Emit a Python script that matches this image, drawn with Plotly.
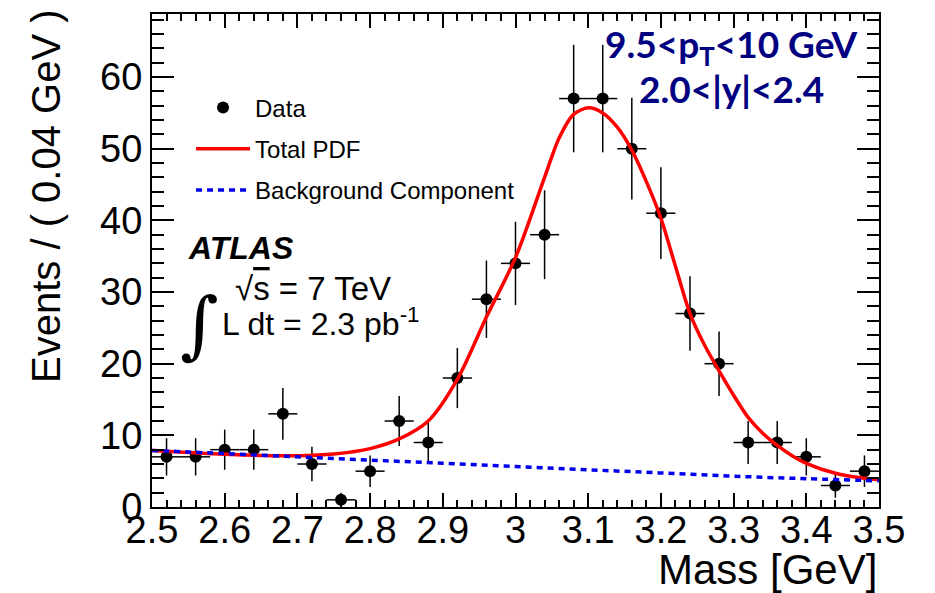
import plotly.graph_objects as go

# J/psi candidate mass spectrum, 9.5 < pT < 10 GeV, 2.0 < |y| < 2.4
bin_centres = [2.52, 2.56, 2.60, 2.64, 2.68, 2.72, 2.76, 2.80, 2.84, 2.88,
               2.92, 2.96, 3.00, 3.04, 3.08, 3.12, 3.16, 3.20, 3.24, 3.28,
               3.32, 3.36, 3.40, 3.44, 3.48]
counts = [7, 7, 8, 8, 13, 6, 1, 5, 12, 9,
          18, 29, 34, 38, 57, 57, 50, 41, 27, 20,
          9, 9, 7, 3, 5]
count_errors = [2.6, 2.6, 2.8, 2.8, 3.6, 2.4, 1.0, 2.2, 3.5, 3.0,
                4.2, 5.4, 5.8, 6.2, 7.5, 7.5, 7.1, 6.4, 5.2, 4.5,
                3.0, 3.0, 2.6, 1.7, 2.2]
bin_half_width = 0.02

# fitted total PDF, sampled along the mass axis
pdf_mass = [2.50, 2.55, 2.60, 2.65, 2.70, 2.75, 2.80, 2.84, 2.88, 2.92,
            2.96, 3.00, 3.04, 3.06, 3.08, 3.10, 3.12, 3.14, 3.16, 3.18,
            3.20, 3.22, 3.24, 3.26, 3.28, 3.30, 3.32, 3.34, 3.36, 3.38,
            3.40, 3.44, 3.48, 3.50]
pdf_total = [7.9, 7.6, 7.35, 7.2, 7.15, 7.4, 8.15, 9.5, 12.0, 17.8,
             26.5, 34.8, 46.0, 51.5, 54.8, 55.7, 55.0, 53.0, 49.8, 45.4,
             40.3, 33.6, 27.0, 22.6, 19.0, 15.6, 12.5, 10.3, 8.6, 7.2,
             6.1, 4.7, 4.0, 3.8]

# background component of the fit
bkg_mass = [2.5, 2.6, 2.7, 2.8, 2.9, 3.0, 3.1, 3.2, 3.3, 3.4, 3.5]
bkg_values = [7.9, 7.45, 7.0, 6.55, 6.1, 5.65, 5.2, 4.75, 4.3, 3.95, 3.65]

x_ticks = [2.5, 2.6, 2.7, 2.8, 2.9, 3.0, 3.1, 3.2, 3.3, 3.4, 3.5]
x_tick_labels = ["2.5", "2.6", "2.7", "2.8", "2.9", "3", "3.1", "3.2", "3.3", "3.4", "3.5"]
y_ticks = [0, 10, 20, 30, 40, 50, 60]
y_tick_labels = ["0", "10", "20", "30", "40", "50", "60"]

HELV = "Liberation Sans, Arial, Helvetica, sans-serif"
NAVY = "#000080"

fig = go.Figure()

fig.add_trace(go.Scatter(
    x=bin_centres, y=counts, mode="markers", name="Data",
    legendgroup="data",
    marker=dict(color="black", size=12),
    error_x=dict(type="constant", value=bin_half_width, color="black",
                 thickness=1.5, width=0),
    error_y=dict(type="data", array=count_errors, color="black",
                 thickness=1.5, width=0),
))

fig.add_trace(go.Scatter(
    x=pdf_mass, y=pdf_total, mode="lines", name="Total PDF",
    legendgroup="total",
    line=dict(color="#ff0000", width=3.5, shape="spline", smoothing=0.8),
))

fig.add_trace(go.Scatter(
    x=bkg_mass, y=bkg_values, mode="lines", name="Background Component",
    legendgroup="bkg",
    line=dict(color="#0000ee", width=3.5, dash="6px,5px", shape="spline"),
))

axis_common = dict(
    showline=True, linecolor="black", linewidth=2, mirror="allticks",
    ticks="inside", tickcolor="black", tickwidth=1.5,
    showgrid=False, zeroline=False,
    tickfont=dict(family=HELV, size=38, color="black"),
)

fig.update_xaxes(
    range=[2.5, 3.5], tickvals=x_ticks, ticktext=x_tick_labels,
    ticklen=14, ticklabelstandoff=-12,
    minor=dict(dtick=0.02, ticklen=7, ticks="inside", tickcolor="black",
               tickwidth=1.5, showgrid=False),
    **axis_common,
)
fig.update_yaxes(
    range=[0, 68.8], tickvals=y_ticks, ticktext=y_tick_labels,
    ticklen=22,
    minor=dict(dtick=2, ticklen=12, ticks="inside", tickcolor="black",
               tickwidth=1.5, showgrid=False),
    **axis_common,
)

annotations = [
    # axis titles
    dict(text="Events / ( 0.04 GeV )", textangle=-90,
         x=-0.146, y=1.014, xref="paper", yref="paper",
         xanchor="center", yanchor="top", showarrow=False,
         font=dict(family=HELV, size=40, color="black")),
    dict(text="Mass [GeV]", x=1.0, y=-0.127, xref="paper", yref="paper",
         xanchor="right", yanchor="middle", showarrow=False,
         font=dict(family=HELV, size=42, color="black")),
    # kinematic selection
    dict(text="9.5<p<sub>T</sub><10 GeV", x=0.797, y=0.935,
         xref="paper", yref="paper", xanchor="center", yanchor="middle",
         showarrow=False,
         font=dict(family="Lato, Open Sans, sans-serif", size=37, color=NAVY,
                   weight="bold")),
    dict(text="2.0<|y|<2.4", x=0.797, y=0.849,
         xref="paper", yref="paper", xanchor="center", yanchor="middle",
         showarrow=False,
         font=dict(family="Lato, Open Sans, sans-serif", size=37, color=NAVY,
                   weight="bold")),
    # experiment label
    dict(text="<b><i>ATLAS</i></b>", x=0.047, y=0.525,
         xref="paper", yref="paper", xanchor="left", yanchor="middle",
         showarrow=False, font=dict(family=HELV, size=32, color="black")),
    dict(text="∫", x=0.036, y=0.372,
         xref="paper", yref="paper", xanchor="left", yanchor="middle",
         showarrow=False, font=dict(family="DejaVu Serif, serif", size=74, color="black")),
    dict(text="√<span style='text-decoration:overline'>s</span> = 7 TeV",
         x=0.112, y=0.443, xref="paper", yref="paper",
         xanchor="left", yanchor="middle", showarrow=False,
         font=dict(family=HELV, size=33, color="black")),
    dict(text="L dt = 2.3 pb<sup>-1</sup>",
         x=0.094, y=0.375, xref="paper", yref="paper",
         xanchor="left", yanchor="middle", showarrow=False,
         font=dict(family=HELV, size=32, color="black")),
]

fig.update_layout(
    width=935, height=593,
    margin=dict(l=152, r=56, t=12, b=86),
    paper_bgcolor="white", plot_bgcolor="white",
    annotations=annotations,
    showlegend=True,
    legend=dict(
        x=0.0537, y=0.855, xanchor="left", yanchor="top",
        bgcolor="rgba(0,0,0,0)", borderwidth=0,
        font=dict(family=HELV, size=24, color="black"),
        itemwidth=54, tracegroupgap=7, traceorder="grouped",
    ),
)

fig.write_html("out.html", config={"displayModeBar": False})
